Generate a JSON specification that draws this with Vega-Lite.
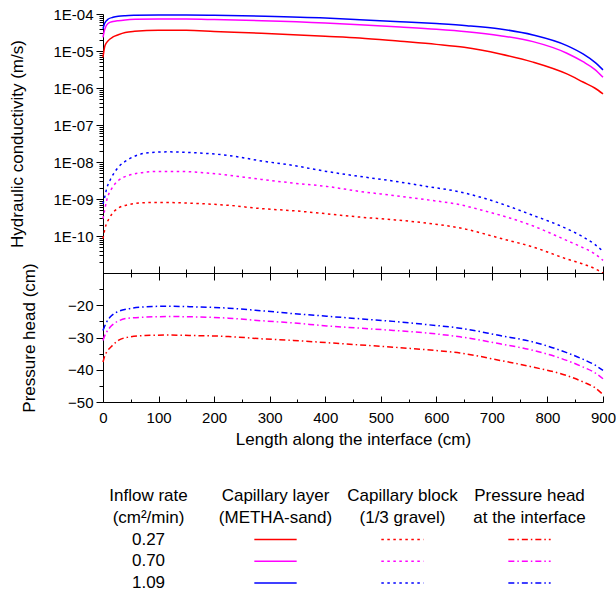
{
  "$schema": "https://vega.github.io/schema/vega-lite/v6.json",
  "padding": {"left": 8, "top": 7, "right": 5, "bottom": 2},
  "config": {
    "view": {"stroke": null},
    "font": "Liberation Sans",
    "axis": {"labelFont": "Liberation Sans", "titleFont": "Liberation Sans", "labelFontSize": 15, "titleFontSize": 17, "titleFontWeight": "normal", "labelColor": "#000", "titleColor": "#000", "domainColor": "#000", "tickColor": "#000", "grid": false, "labelFlush": false},
    "text": {"font": "Liberation Sans", "fontSize": 17, "color": "#000"}
  },
  "datasets": {
    "k": [
      {"x":0,"K":3.98e-5,"r":"1.09","m":"layer"},{"x":3,"K":5.62e-5,"r":"1.09","m":"layer"},{"x":9.5,"K":7.33e-5,"r":"1.09","m":"layer"},{"x":18,"K":8.13e-5,"r":"1.09","m":"layer"},{"x":27.5,"K":8.67e-5,"r":"1.09","m":"layer"},{"x":40,"K":9.02e-5,"r":"1.09","m":"layer"},{"x":58,"K":9.23e-5,"r":"1.09","m":"layer"},{"x":100,"K":9.40e-5,"r":"1.09","m":"layer"},{"x":150,"K":9.40e-5,"r":"1.09","m":"layer"},{"x":200,"K":9.23e-5,"r":"1.09","m":"layer"},{"x":292,"K":8.67e-5,"r":"1.09","m":"layer"},{"x":400,"K":7.76e-5,"r":"1.09","m":"layer"},{"x":462,"K":7.03e-5,"r":"1.09","m":"layer"},{"x":535,"K":6.21e-5,"r":"1.09","m":"layer"},{"x":600,"K":5.5e-5,"r":"1.09","m":"layer"},{"x":655,"K":4.84e-5,"r":"1.09","m":"layer"},{"x":715,"K":3.94e-5,"r":"1.09","m":"layer"},{"x":774,"K":2.71e-5,"r":"1.09","m":"layer"},{"x":835,"K":1.40e-5,"r":"1.09","m":"layer"},{"x":864,"K":8.32e-6,"r":"1.09","m":"layer"},{"x":885,"K":5.0e-6,"r":"1.09","m":"layer"},{"x":900,"K":3.09e-6,"r":"1.09","m":"layer"},
      {"x":0,"K":2.34e-5,"r":"0.70","m":"layer"},{"x":3,"K":3.8e-5,"r":"0.70","m":"layer"},{"x":9.5,"K":5.62e-5,"r":"0.70","m":"layer"},{"x":18,"K":6.24e-5,"r":"0.70","m":"layer"},{"x":27.5,"K":6.61e-5,"r":"0.70","m":"layer"},{"x":40,"K":6.92e-5,"r":"0.70","m":"layer"},{"x":58,"K":7.16e-5,"r":"0.70","m":"layer"},{"x":100,"K":7.33e-5,"r":"0.70","m":"layer"},{"x":150,"K":7.29e-5,"r":"0.70","m":"layer"},{"x":200,"K":7.08e-5,"r":"0.70","m":"layer"},{"x":286,"K":6.61e-5,"r":"0.70","m":"layer"},{"x":400,"K":5.75e-5,"r":"0.70","m":"layer"},{"x":462,"K":5.15e-5,"r":"0.70","m":"layer"},{"x":535,"K":4.47e-5,"r":"0.70","m":"layer"},{"x":600,"K":3.89e-5,"r":"0.70","m":"layer"},{"x":655,"K":3.33e-5,"r":"0.70","m":"layer"},{"x":715,"K":2.6e-5,"r":"0.70","m":"layer"},{"x":774,"K":1.79e-5,"r":"0.70","m":"layer"},{"x":835,"K":8.71e-6,"r":"0.70","m":"layer"},{"x":864,"K":5.13e-6,"r":"0.70","m":"layer"},{"x":885,"K":3.2e-6,"r":"0.70","m":"layer"},{"x":900,"K":1.95e-6,"r":"0.70","m":"layer"},
      {"x":0,"K":6.76e-6,"r":"0.27","m":"layer"},{"x":3.6,"K":1.4e-5,"r":"0.27","m":"layer"},{"x":9.5,"K":1.91e-5,"r":"0.27","m":"layer"},{"x":18,"K":2.4e-5,"r":"0.27","m":"layer"},{"x":27.5,"K":2.75e-5,"r":"0.27","m":"layer"},{"x":40,"K":3.16e-5,"r":"0.27","m":"layer"},{"x":57,"K":3.4e-5,"r":"0.27","m":"layer"},{"x":100,"K":3.63e-5,"r":"0.27","m":"layer"},{"x":150,"K":3.63e-5,"r":"0.27","m":"layer"},{"x":200,"K":3.39e-5,"r":"0.27","m":"layer"},{"x":285,"K":3.02e-5,"r":"0.27","m":"layer"},{"x":400,"K":2.51e-5,"r":"0.27","m":"layer"},{"x":462,"K":2.25e-5,"r":"0.27","m":"layer"},{"x":535,"K":1.83e-5,"r":"0.27","m":"layer"},{"x":600,"K":1.51e-5,"r":"0.27","m":"layer"},{"x":650,"K":1.26e-5,"r":"0.27","m":"layer"},{"x":715,"K":8.32e-6,"r":"0.27","m":"layer"},{"x":774,"K":5.01e-6,"r":"0.27","m":"layer"},{"x":835,"K":2.4e-6,"r":"0.27","m":"layer"},{"x":864,"K":1.45e-6,"r":"0.27","m":"layer"},{"x":885,"K":1.0e-6,"r":"0.27","m":"layer"},{"x":900,"K":6.92e-7,"r":"0.27","m":"layer"},
      {"x":0,"K":7.4e-10,"r":"1.09","m":"block"},{"x":3,"K":1.12e-9,"r":"1.09","m":"block"},{"x":6.6,"K":1.9e-9,"r":"1.09","m":"block"},{"x":15.6,"K":3.89e-9,"r":"1.09","m":"block"},{"x":27.6,"K":7.24e-9,"r":"1.09","m":"block"},{"x":45.6,"K":1.17e-8,"r":"1.09","m":"block"},{"x":63.6,"K":1.56e-8,"r":"1.09","m":"block"},{"x":81.6,"K":1.78e-8,"r":"1.09","m":"block"},{"x":117.6,"K":1.88e-8,"r":"1.09","m":"block"},{"x":165.6,"K":1.78e-8,"r":"1.09","m":"block"},{"x":225.6,"K":1.5e-8,"r":"1.09","m":"block"},{"x":285,"K":1.07e-8,"r":"1.09","m":"block"},{"x":342.6,"K":8.05e-9,"r":"1.09","m":"block"},{"x":402.6,"K":5.55e-9,"r":"1.09","m":"block"},{"x":462.6,"K":4.07e-9,"r":"1.09","m":"block"},{"x":522.6,"K":3.05e-9,"r":"1.09","m":"block"},{"x":582.6,"K":2.19e-9,"r":"1.09","m":"block"},{"x":642.6,"K":1.55e-9,"r":"1.09","m":"block"},{"x":684,"K":1.07e-9,"r":"1.09","m":"block"},{"x":774.5,"K":3.59e-10,"r":"1.09","m":"block"},{"x":834.6,"K":1.58e-10,"r":"1.09","m":"block"},{"x":864.6,"K":9.33e-11,"r":"1.09","m":"block"},{"x":885,"K":6.0e-11,"r":"1.09","m":"block"},{"x":900,"K":3.85e-11,"r":"1.09","m":"block"},
      {"x":0,"K":2.95e-10,"r":"0.70","m":"block"},{"x":3,"K":5.0e-10,"r":"0.70","m":"block"},{"x":6.6,"K":9.12e-10,"r":"0.70","m":"block"},{"x":15.6,"K":1.9e-9,"r":"0.70","m":"block"},{"x":27.6,"K":3.16e-9,"r":"0.70","m":"block"},{"x":45.6,"K":4.33e-9,"r":"0.70","m":"block"},{"x":63.6,"K":5.01e-9,"r":"0.70","m":"block"},{"x":99.6,"K":5.55e-9,"r":"0.70","m":"block"},{"x":135.6,"K":5.55e-9,"r":"0.70","m":"block"},{"x":195.6,"K":4.9e-9,"r":"0.70","m":"block"},{"x":285,"K":3.39e-9,"r":"0.70","m":"block"},{"x":342.6,"K":2.69e-9,"r":"0.70","m":"block"},{"x":402.6,"K":2.19e-9,"r":"0.70","m":"block"},{"x":462.6,"K":1.6e-9,"r":"0.70","m":"block"},{"x":522.6,"K":1.25e-9,"r":"0.70","m":"block"},{"x":582.6,"K":9.55e-10,"r":"0.70","m":"block"},{"x":642.6,"K":7.0e-10,"r":"0.70","m":"block"},{"x":684,"K":4.9e-10,"r":"0.70","m":"block"},{"x":774.5,"K":1.86e-10,"r":"0.70","m":"block"},{"x":834.6,"K":7.59e-11,"r":"0.70","m":"block"},{"x":864.6,"K":4.79e-11,"r":"0.70","m":"block"},{"x":885,"K":3.31e-11,"r":"0.70","m":"block"},{"x":900,"K":2.19e-11,"r":"0.70","m":"block"},
      {"x":0,"K":8.5e-11,"r":"0.27","m":"block"},{"x":3.6,"K":1.58e-10,"r":"0.27","m":"block"},{"x":12.6,"K":3.24e-10,"r":"0.27","m":"block"},{"x":27.6,"K":5.69e-10,"r":"0.27","m":"block"},{"x":45.6,"K":7.0e-10,"r":"0.27","m":"block"},{"x":75.6,"K":7.94e-10,"r":"0.27","m":"block"},{"x":105.6,"K":8.07e-10,"r":"0.27","m":"block"},{"x":165.6,"K":7.59e-10,"r":"0.27","m":"block"},{"x":225.6,"K":6.76e-10,"r":"0.27","m":"block"},{"x":285,"K":5.5e-10,"r":"0.27","m":"block"},{"x":342.6,"K":4.82e-10,"r":"0.27","m":"block"},{"x":402.6,"K":3.98e-10,"r":"0.27","m":"block"},{"x":462.6,"K":3.24e-10,"r":"0.27","m":"block"},{"x":522.6,"K":2.75e-10,"r":"0.27","m":"block"},{"x":582.6,"K":2.24e-10,"r":"0.27","m":"block"},{"x":654.6,"K":1.51e-10,"r":"0.27","m":"block"},{"x":714.6,"K":8.71e-11,"r":"0.27","m":"block"},{"x":774.5,"K":5.01e-11,"r":"0.27","m":"block"},{"x":834.6,"K":2.4e-11,"r":"0.27","m":"block"},{"x":864.6,"K":1.74e-11,"r":"0.27","m":"block"},{"x":885,"K":1.32e-11,"r":"0.27","m":"block"},{"x":900,"K":1.0e-11,"r":"0.27","m":"block"}
    ],
    "p": [
      {"x":0,"P":-27.8,"r":"1.09"},{"x":3,"P":-26.5,"r":"1.09"},{"x":6.6,"P":-25.2,"r":"1.09"},{"x":15.6,"P":-23.2,"r":"1.09"},{"x":27.6,"P":-21.95,"r":"1.09"},{"x":45.6,"P":-21.1,"r":"1.09"},{"x":75.6,"P":-20.5,"r":"1.09"},{"x":117.6,"P":-20.3,"r":"1.09"},{"x":165.6,"P":-20.5,"r":"1.09"},{"x":225.6,"P":-20.9,"r":"1.09"},{"x":285,"P":-21.7,"r":"1.09"},{"x":342.6,"P":-22.6,"r":"1.09"},{"x":402.6,"P":-23.4,"r":"1.09"},{"x":462.6,"P":-24.2,"r":"1.09"},{"x":522.6,"P":-25.0,"r":"1.09"},{"x":582.6,"P":-26.0,"r":"1.09"},{"x":642.6,"P":-27.1,"r":"1.09"},{"x":714.6,"P":-29.4,"r":"1.09"},{"x":774.5,"P":-31.4,"r":"1.09"},{"x":834.6,"P":-34.7,"r":"1.09"},{"x":864.6,"P":-36.8,"r":"1.09"},{"x":885,"P":-38.5,"r":"1.09"},{"x":900,"P":-40.2,"r":"1.09"},
      {"x":0,"P":-30.9,"r":"0.70"},{"x":3,"P":-29.5,"r":"0.70"},{"x":6.6,"P":-28.3,"r":"0.70"},{"x":15.6,"P":-26.3,"r":"0.70"},{"x":27.6,"P":-24.9,"r":"0.70"},{"x":45.6,"P":-24.0,"r":"0.70"},{"x":75.6,"P":-23.7,"r":"0.70"},{"x":117.6,"P":-23.5,"r":"0.70"},{"x":165.6,"P":-23.6,"r":"0.70"},{"x":225.6,"P":-24.0,"r":"0.70"},{"x":285,"P":-24.8,"r":"0.70"},{"x":342.6,"P":-25.5,"r":"0.70"},{"x":402.6,"P":-26.4,"r":"0.70"},{"x":462.6,"P":-27.1,"r":"0.70"},{"x":522.6,"P":-27.8,"r":"0.70"},{"x":582.6,"P":-28.6,"r":"0.70"},{"x":642.6,"P":-29.8,"r":"0.70"},{"x":714.6,"P":-31.95,"r":"0.70"},{"x":774.5,"P":-34.0,"r":"0.70"},{"x":834.6,"P":-37.1,"r":"0.70"},{"x":864.6,"P":-39.2,"r":"0.70"},{"x":885,"P":-40.9,"r":"0.70"},{"x":900,"P":-42.8,"r":"0.70"},
      {"x":0,"P":-37.6,"r":"0.27"},{"x":3,"P":-35.8,"r":"0.27"},{"x":6.6,"P":-34.5,"r":"0.27"},{"x":15.6,"P":-32.7,"r":"0.27"},{"x":27.6,"P":-30.9,"r":"0.27"},{"x":45.6,"P":-29.9,"r":"0.27"},{"x":75.6,"P":-29.4,"r":"0.27"},{"x":117.6,"P":-29.25,"r":"0.27"},{"x":165.6,"P":-29.4,"r":"0.27"},{"x":225.6,"P":-29.7,"r":"0.27"},{"x":285,"P":-30.4,"r":"0.27"},{"x":342.6,"P":-30.9,"r":"0.27"},{"x":402.6,"P":-31.6,"r":"0.27"},{"x":462.6,"P":-32.3,"r":"0.27"},{"x":522.6,"P":-33.0,"r":"0.27"},{"x":582.6,"P":-33.8,"r":"0.27"},{"x":642.6,"P":-34.8,"r":"0.27"},{"x":714.6,"P":-37.1,"r":"0.27"},{"x":774.5,"P":-39.2,"r":"0.27"},{"x":834.6,"P":-41.8,"r":"0.27"},{"x":864.6,"P":-43.8,"r":"0.27"},{"x":885,"P":-45.5,"r":"0.27"},{"x":900,"P":-47.7,"r":"0.27"}
    ],
    "legtext": [
      {"c":"rate","row":"h1","t":"Inflow rate"},{"c":"rate","row":"h2","t":"(cm²/min)"},
      {"c":"layer","row":"h1","t":"Capillary layer"},{"c":"layer","row":"h2","t":"(METHA-sand)"},
      {"c":"block","row":"h1","t":"Capillary block"},{"c":"block","row":"h2","t":"(1/3 gravel)"},
      {"c":"head","row":"h1","t":"Pressure head"},{"c":"head","row":"h2","t":"at the interface"},
      {"c":"rate","row":"0.27","t":"0.27"},{"c":"rate","row":"0.70","t":"0.70"},{"c":"rate","row":"1.09","t":"1.09"}
    ],
    "legline": [
      {"c":"layer","row":"0.27","r":"0.27","e":"a"},{"c":"layer","row":"0.27","r":"0.27","e":"b"},
      {"c":"layer","row":"0.70","r":"0.70","e":"a"},{"c":"layer","row":"0.70","r":"0.70","e":"b"},
      {"c":"layer","row":"1.09","r":"1.09","e":"a"},{"c":"layer","row":"1.09","r":"1.09","e":"b"},
      {"c":"block","row":"0.27","r":"0.27","e":"a"},{"c":"block","row":"0.27","r":"0.27","e":"b"},
      {"c":"block","row":"0.70","r":"0.70","e":"a"},{"c":"block","row":"0.70","r":"0.70","e":"b"},
      {"c":"block","row":"1.09","r":"1.09","e":"a"},{"c":"block","row":"1.09","r":"1.09","e":"b"},
      {"c":"head","row":"0.27","r":"0.27","e":"a"},{"c":"head","row":"0.27","r":"0.27","e":"b"},
      {"c":"head","row":"0.70","r":"0.70","e":"a"},{"c":"head","row":"0.70","r":"0.70","e":"b"},
      {"c":"head","row":"1.09","r":"1.09","e":"a"},{"c":"head","row":"1.09","r":"1.09","e":"b"}
    ]
  },
  "spacing": 38,
  "vconcat": [
    {
      "spacing": 0,
      "bounds": "flush",
      "vconcat": [
        {
          "width": 500, "height": 259,
          "data": {"name": "k"},
          "resolve": {"axis": {"x": "independent", "y": "independent"}},
          "layer": [
            {
              "transform": [{"filter": "datum.m == 'layer'"}],
              "mark": {"type": "line", "strokeWidth": 1.5, "interpolate": "monotone"},
              "encoding": {
                "x": {"field": "x", "type": "quantitative", "scale": {"domain": [0, 900], "nice": false},
                  "axis": {"orient": "bottom", "values": [0,100,200,300,400,500,600,700,800,900], "labels": false, "title": null, "domain": false, "tickSize": 14, "offset": -7}},
                "y": {"field": "K", "type": "quantitative", "scale": {"type": "log", "domain": [1e-11, 1e-4], "nice": false},
                  "axis": {"orient": "left", "values": [1e-10,1e-9,1e-8,1e-7,1e-6,1e-5,1e-4], "labelExpr": "'1E-' + (datum.value < 5e-10 ? '' : '0') + format(-round(log(datum.value)/LN10), 'd')", "title": "Hydraulic conductivity (m/s)", "tickSize": 7, "labelPadding": 3, "titlePadding": 26}},
                "color": {"field": "r", "type": "nominal", "scale": {"domain": ["0.27","0.70","1.09"], "range": ["#ff0000","#ff00ff","#0000ff"]}, "legend": null}
              }
            },
            {
              "transform": [{"filter": "datum.m == 'block'"}],
              "mark": {"type": "line", "strokeWidth": 1.5, "strokeDash": [2.5, 3.5], "interpolate": "monotone"},
              "encoding": {
                "x": {"field": "x", "type": "quantitative",
                  "axis": {"orient": "bottom", "values": [50,150,250,350,450,550,650,750,850], "labels": false, "title": null, "domain": false, "tickSize": 8, "offset": -4}},
                "y": {"field": "K", "type": "quantitative",
                  "axis": {"orient": "left", "values": [2e-11,3e-11,4e-11,5e-11,6e-11,7e-11,8e-11,9e-11,2e-10,3e-10,4e-10,5e-10,6e-10,7e-10,8e-10,9e-10,2e-9,3e-9,4e-9,5e-9,6e-9,7e-9,8e-9,9e-9,2e-8,3e-8,4e-8,5e-8,6e-8,7e-8,8e-8,9e-8,2e-7,3e-7,4e-7,5e-7,6e-7,7e-7,8e-7,9e-7,2e-6,3e-6,4e-6,5e-6,6e-6,7e-6,8e-6,9e-6,2e-5,3e-5,4e-5,5e-5,6e-5,7e-5,8e-5,9e-5], "labels": false, "title": null, "domain": false, "tickSize": 4}},
                "color": {"field": "r", "type": "nominal", "legend": null}
              }
            }
          ]
        },
        {
          "width": 500, "height": 129,
          "data": {"name": "p"},
          "resolve": {"axis": {"x": "independent", "y": "independent"}},
          "layer": [
            {
              "transform": [{"filter": "datum.r == '0.27'"}],
              "mark": {"type": "line", "strokeWidth": 1.5, "strokeDash": [6, 3, 1.5, 3], "interpolate": "monotone"},
              "encoding": {
                "x": {"field": "x", "type": "quantitative", "scale": {"domain": [0, 900], "nice": false},
                  "axis": {"orient": "bottom", "values": [0,100,200,300,400,500,600,700,800,900], "title": "Length along the interface (cm)", "tickSize": -6, "labelPadding": 14, "titlePadding": 6}},
                "y": {"field": "P", "type": "quantitative", "scale": {"domain": [-50, -10], "nice": false},
                  "axis": {"orient": "left", "values": [-50,-40,-30,-20], "title": "Pressure head (cm)", "tickSize": 7, "labelPadding": 3, "titlePadding": 29}},
                "color": {"field": "r", "type": "nominal", "legend": null}
              }
            },
            {
              "transform": [{"filter": "datum.r == '0.70'"}],
              "mark": {"type": "line", "strokeWidth": 1.5, "strokeDash": [6, 3, 1.5, 3], "interpolate": "monotone"},
              "encoding": {
                "x": {"field": "x", "type": "quantitative",
                  "axis": {"orient": "bottom", "values": [50,150,250,350,450,550,650,750,850], "labels": false, "title": null, "domain": false, "tickSize": -3}},
                "y": {"field": "P", "type": "quantitative",
                  "axis": {"orient": "left", "values": [-45,-35,-25,-15], "labels": false, "title": null, "domain": false, "tickSize": 4}},
                "color": {"field": "r", "type": "nominal", "legend": null}
              }
            },
            {
              "transform": [{"filter": "datum.r == '1.09'"}],
              "mark": {"type": "line", "strokeWidth": 1.5, "strokeDash": [6, 3, 1.5, 3], "interpolate": "monotone"},
              "encoding": {
                "x": {"field": "x", "type": "quantitative",
                  "axis": {"orient": "top", "ticks": false, "labels": false, "title": null, "domain": true}},
                "y": {"field": "P", "type": "quantitative", "axis": null},
                "color": {"field": "r", "type": "nominal", "legend": null}
              }
            }
          ]
        }
      ]
    },
    {
      "width": 508, "height": 109,
      "layer": [
        {
          "data": {"name": "legtext"},
          "mark": {"type": "text", "fontSize": 17, "baseline": "middle"},
          "encoding": {
            "x": {"field": "c", "type": "nominal", "scale": {"type": "band", "domain": ["rate","layer","block","head"], "range": [-18, 490], "paddingInner": 0, "paddingOuter": 0}, "axis": null},
            "y": {"field": "row", "type": "nominal", "scale": {"type": "point", "domain": ["h1","h2","0.27","0.70","1.09"], "padding": 0.5}, "axis": null},
            "text": {"field": "t"}
          }
        },
        {
          "data": {"name": "legline"},
          "transform": [{"filter": "datum.c == 'layer'"}],
          "mark": {"type": "line", "strokeWidth": 1.5},
          "encoding": {
            "x": {"field": "c", "type": "nominal", "axis": null},
            "xOffset": {"field": "e", "type": "nominal", "scale": {"type": "point", "padding": 1.3}},
            "y": {"field": "row", "type": "nominal", "axis": null},
            "color": {"field": "r", "type": "nominal", "legend": null}
          }
        },
        {
          "data": {"name": "legline"},
          "transform": [{"filter": "datum.c == 'block'"}],
          "mark": {"type": "line", "strokeWidth": 1.5, "strokeDash": [2.5, 3.5]},
          "encoding": {
            "x": {"field": "c", "type": "nominal", "axis": null},
            "xOffset": {"field": "e", "type": "nominal", "scale": {"type": "point", "padding": 1.3}},
            "y": {"field": "row", "type": "nominal", "axis": null},
            "color": {"field": "r", "type": "nominal", "legend": null}
          }
        },
        {
          "data": {"name": "legline"},
          "transform": [{"filter": "datum.c == 'head'"}],
          "mark": {"type": "line", "strokeWidth": 1.5, "strokeDash": [6, 3, 1.5, 3]},
          "encoding": {
            "x": {"field": "c", "type": "nominal", "axis": null},
            "xOffset": {"field": "e", "type": "nominal", "scale": {"type": "point", "padding": 1.3}},
            "y": {"field": "row", "type": "nominal", "axis": null},
            "color": {"field": "r", "type": "nominal", "legend": null}
          }
        }
      ]
    }
  ]
}
